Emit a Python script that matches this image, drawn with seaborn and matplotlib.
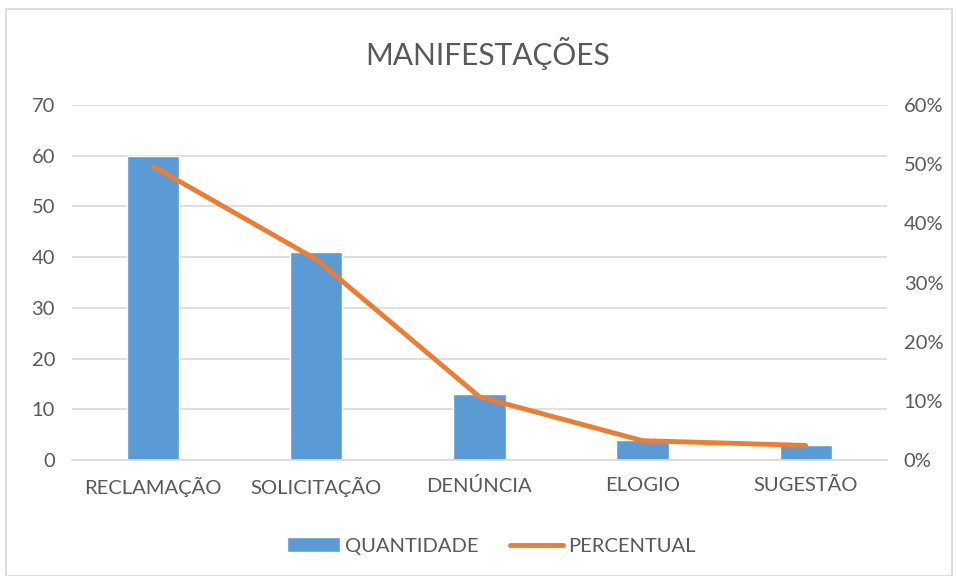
import matplotlib
matplotlib.use("Agg")
import matplotlib.pyplot as plt
import seaborn as sns
import pandas as pd
from matplotlib.ticker import FuncFormatter

# data
categorias = ["RECLAMAÇÃO", "SOLICITAÇÃO", "DENÚNCIA", "ELOGIO", "SUGESTÃO"]
quantidade = [60, 41, 13, 4, 3]
percentual = [0.496, 0.339, 0.107, 0.033, 0.025]

df = pd.DataFrame({"categoria": categorias, "quantidade": quantidade, "percentual": percentual})

sns.set_style("white")
plt.rcParams["font.family"] = ["Lato", "DejaVu Sans"]
text_color = "#595959"
grid_color = "#d9d9d9"
bar_color = "#5b9bd5"
line_color = "#ed7d31"
fs = 14.5

fig = plt.figure(figsize=(9.56, 5.76), dpi=100)
ax = fig.add_axes([0.075, 0.201, 0.853, 0.617])

sns.barplot(data=df, x="categoria", y="quantidade", color=bar_color, width=0.32,
            saturation=1, ax=ax, label="QUANTIDADE", zorder=2)
ax.set_xlim(-0.5, len(categorias) - 0.5)
ax.set_ylim(0, 70)
ax.set_yticks(range(0, 71, 10))
ax.yaxis.grid(True, color=grid_color, linewidth=1.2, zorder=0)
ax.set_axisbelow(True)
for s in ax.spines.values():
    s.set_visible(False)
ax.spines["bottom"].set_visible(True)
ax.spines["bottom"].set_color(grid_color)
ax.spines["bottom"].set_linewidth(1.2)
ax.set_xlabel("")
ax.set_ylabel("")
ax.tick_params(axis="both", length=0, labelsize=fs, colors=text_color, pad=12)
ax.tick_params(axis="y", pad=12)

ax2 = ax.twinx()
sns.lineplot(x=range(len(categorias)), y=percentual, color=line_color, linewidth=3.5,
             ax=ax2, label="PERCENTUAL", zorder=3, solid_capstyle="round")
ax2.set_ylim(0, 0.6)
ax2.set_yticks([i / 10 for i in range(7)])
ax2.yaxis.set_major_formatter(FuncFormatter(lambda v, p: f"{v*100:.0f}%"))
ax2.tick_params(axis="y", length=0, labelsize=fs, colors=text_color, pad=12)
for s in ax2.spines.values():
    s.set_visible(False)
ax2.set_ylabel("")
ax2.get_legend().remove()
if ax.get_legend():
    ax.get_legend().remove()

h1, l1 = ax.get_legend_handles_labels()
h2, l2 = ax2.get_legend_handles_labels()
fig.legend(h1 + h2, l1 + l2, loc="center", bbox_to_anchor=(0.514, 0.052), ncol=2,
           frameon=False, fontsize=fs, labelcolor=text_color, handlelength=2.6,
           handletextpad=0.25, columnspacing=1.6)

fig.suptitle("MANIFESTAÇÕES", x=0.51, y=0.935, fontsize=21.5, color=text_color)

# thin frame around the chart area
fig.patches.append(plt.Rectangle((0.006, 0.0), 0.99, 0.985, transform=fig.transFigure,
                                 fill=False, edgecolor=grid_color, linewidth=1.2))

fig.savefig("out.png", dpi=100)
